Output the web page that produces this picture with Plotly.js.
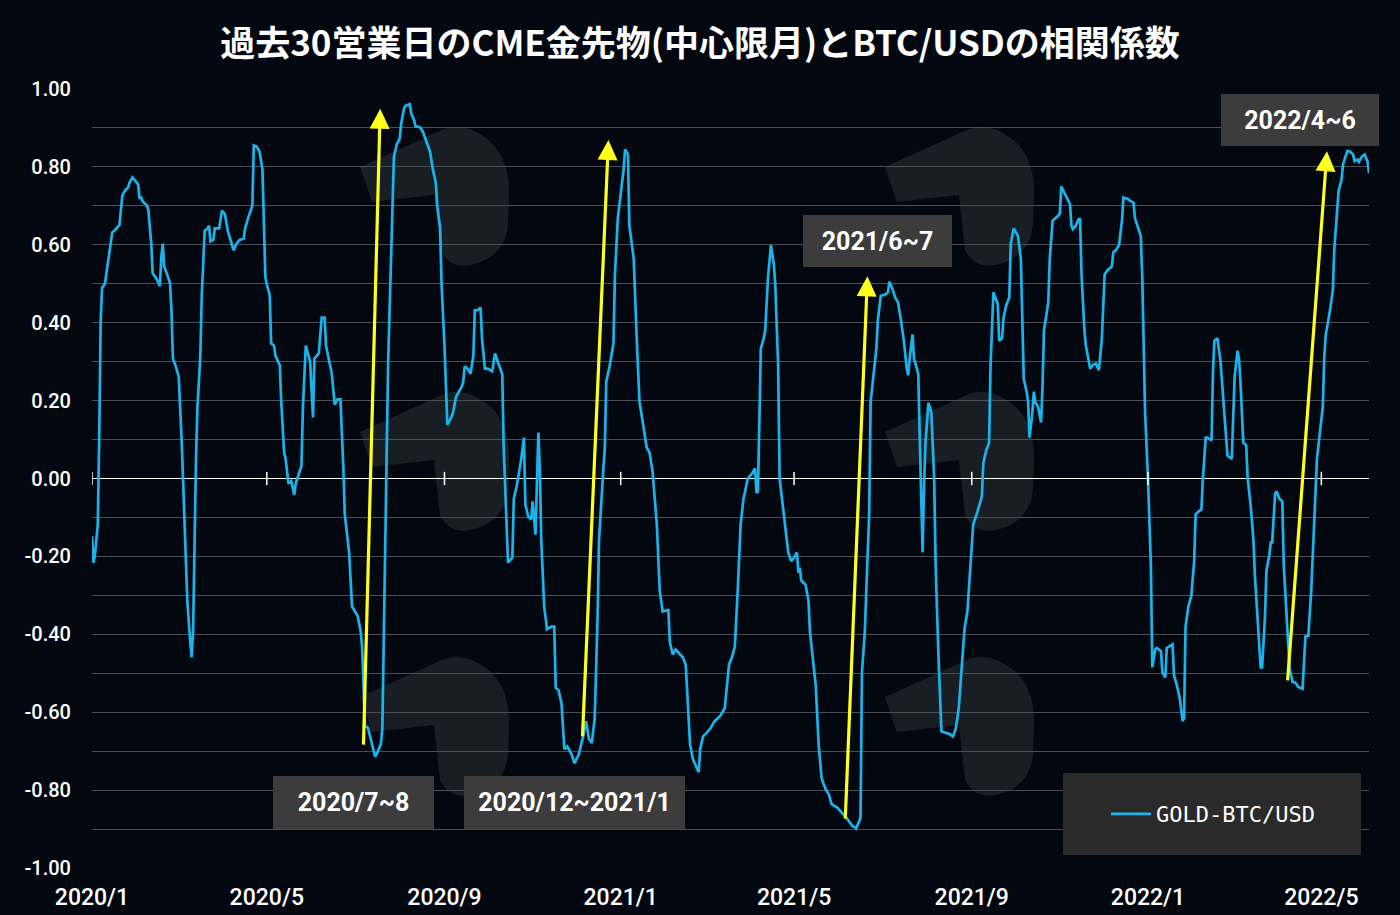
<!DOCTYPE html>
<html>
<head>
<meta charset="utf-8">
<script src="https://cdn.plot.ly/plotly-3.0.1.min.js"></script>
<style>
html,body{margin:0;padding:0;background:#03070f;}
#chart{width:1400px;height:915px;}
</style>
</head>
<body>
<div id="chart"></div>
<script>
// ---- data ----
const seriesName = 'GOLD-BTC/USD';
const dates = [
'2020-01-01','2020-01-02','2020-01-03','2020-01-05','2020-01-06','2020-01-07','2020-01-08','2020-01-10','2020-01-11','2020-01-13',
'2020-01-14','2020-01-15','2020-01-17','2020-01-20','2020-01-22','2020-01-24','2020-01-26','2020-01-27','2020-01-29','2020-01-31',
'2020-02-02','2020-02-03','2020-02-04','2020-02-05','2020-02-08','2020-02-09','2020-02-11','2020-02-12','2020-02-15','2020-02-17',
'2020-02-18','2020-02-19','2020-02-20','2020-02-22','2020-02-24','2020-02-25','2020-02-26','2020-02-28','2020-03-01','2020-03-03',
'2020-03-04','2020-03-05','2020-03-07','2020-03-09','2020-03-10','2020-03-11','2020-03-12','2020-03-13','2020-03-14','2020-03-16',
'2020-03-17','2020-03-19','2020-03-21','2020-03-22','2020-03-23','2020-03-25','2020-03-26','2020-03-29','2020-03-31','2020-04-02',
'2020-04-04','2020-04-08','2020-04-10','2020-04-12','2020-04-15','2020-04-16','2020-04-18','2020-04-21','2020-04-22','2020-04-24',
'2020-04-26','2020-04-28','2020-04-30','2020-05-01','2020-05-03','2020-05-04','2020-05-06','2020-05-07','2020-05-10','2020-05-11',
'2020-05-13','2020-05-14','2020-05-16','2020-05-18','2020-05-20','2020-05-21','2020-05-25','2020-05-26','2020-05-28','2020-05-30',
'2020-05-31','2020-06-02','2020-06-03','2020-06-06','2020-06-08','2020-06-10','2020-06-11','2020-06-15','2020-06-17','2020-06-19',
'2020-06-21','2020-06-23','2020-06-24','2020-06-27','2020-06-29','2020-07-03','2020-07-05','2020-07-06','2020-07-08','2020-07-10',
'2020-07-12','2020-07-15','2020-07-16','2020-07-19','2020-07-20','2020-07-21','2020-07-23','2020-07-24','2020-07-26','2020-07-27',
'2020-07-28','2020-07-30','2020-08-01','2020-08-02','2020-08-04','2020-08-05','2020-08-08','2020-08-09','2020-08-11','2020-08-12',
'2020-08-15','2020-08-17','2020-08-19','2020-08-21','2020-08-22','2020-08-24','2020-08-26','2020-08-27','2020-08-28','2020-08-29',
'2020-08-30','2020-09-01','2020-09-03','2020-09-05','2020-09-07','2020-09-09','2020-09-11','2020-09-13','2020-09-14','2020-09-15',
'2020-09-17','2020-09-19','2020-09-21','2020-09-22','2020-09-24','2020-09-26','2020-09-27','2020-09-29','2020-10-01','2020-10-04',
'2020-10-06','2020-10-07','2020-10-09','2020-10-11','2020-10-12','2020-10-14','2020-10-15','2020-10-18','2020-10-19','2020-10-21',
'2020-10-24','2020-10-26','2020-10-27','2020-10-29','2020-10-31','2020-11-01','2020-11-03','2020-11-05','2020-11-06','2020-11-07',
'2020-11-09','2020-11-11','2020-11-14','2020-11-16','2020-11-17','2020-11-19','2020-11-21','2020-11-23','2020-11-25','2020-11-28',
'2020-11-30','2020-12-03','2020-12-06','2020-12-08','2020-12-10','2020-12-12','2020-12-14','2020-12-16','2020-12-17','2020-12-20',
'2020-12-21','2020-12-22','2020-12-24','2020-12-27','2020-12-28','2020-12-30','2021-01-01','2021-01-03','2021-01-04','2021-01-06',
'2021-01-07','2021-01-10','2021-01-12','2021-01-14','2021-01-16','2021-01-19','2021-01-21','2021-01-23','2021-01-26','2021-01-28',
'2021-01-30','2021-02-03','2021-02-04','2021-02-06','2021-02-08','2021-02-10','2021-02-13','2021-02-15','2021-02-18','2021-02-20',
'2021-02-24','2021-02-25','2021-02-27','2021-03-01','2021-03-04','2021-03-07','2021-03-11','2021-03-14','2021-03-17','2021-03-19',
'2021-03-21','2021-03-23','2021-03-25','2021-03-27','2021-03-30','2021-04-02','2021-04-04','2021-04-05','2021-04-06','2021-04-08',
'2021-04-10','2021-04-11','2021-04-13','2021-04-15','2021-04-17','2021-04-18','2021-04-20','2021-04-21','2021-04-23','2021-04-25',
'2021-04-27','2021-04-29','2021-05-01','2021-05-03','2021-05-04','2021-05-05','2021-05-06','2021-05-09','2021-05-11','2021-05-12',
'2021-05-14','2021-05-16','2021-05-18','2021-05-20','2021-05-21','2021-05-23','2021-05-25','2021-05-27','2021-05-29','2021-05-31',
'2021-06-03','2021-06-05','2021-06-09','2021-06-10','2021-06-13','2021-06-16','2021-06-17','2021-06-19','2021-06-20','2021-06-22',
'2021-06-23','2021-06-25','2021-06-27','2021-06-28','2021-06-29','2021-06-30','2021-07-03','2021-07-05','2021-07-06','2021-07-08',
'2021-07-10','2021-07-12','2021-07-14','2021-07-16','2021-07-18','2021-07-19','2021-07-20','2021-07-22','2021-07-23','2021-07-24',
'2021-07-26','2021-07-27','2021-07-28','2021-07-29','2021-07-30','2021-07-31','2021-08-02','2021-08-04','2021-08-06','2021-08-07',
'2021-08-09','2021-08-11','2021-08-14','2021-08-16','2021-08-19','2021-08-21','2021-08-23','2021-08-25','2021-08-27','2021-08-29',
'2021-08-31','2021-09-02','2021-09-05','2021-09-08','2021-09-09','2021-09-11','2021-09-13','2021-09-14','2021-09-16','2021-09-19',
'2021-09-20','2021-09-22','2021-09-23','2021-09-25','2021-09-27','2021-09-28','2021-09-30','2021-10-03','2021-10-05','2021-10-06',
'2021-10-07','2021-10-09','2021-10-10','2021-10-11','2021-10-13','2021-10-14','2021-10-15','2021-10-17','2021-10-19','2021-10-20',
'2021-10-21','2021-10-24','2021-10-25','2021-10-27','2021-10-29','2021-10-31','2021-11-01','2021-11-02','2021-11-04','2021-11-06',
'2021-11-08','2021-11-09','2021-11-10','2021-11-12','2021-11-14','2021-11-15','2021-11-16','2021-11-18','2021-11-19','2021-11-22',
'2021-11-24','2021-11-26','2021-11-28','2021-11-30','2021-12-02','2021-12-04','2021-12-07','2021-12-08','2021-12-10','2021-12-12',
'2021-12-14','2021-12-15','2021-12-18','2021-12-20','2021-12-22','2021-12-23','2021-12-25','2021-12-27','2021-12-28','2021-12-29',
'2021-12-30','2022-01-01','2022-01-02','2022-01-03','2022-01-04','2022-01-06','2022-01-07','2022-01-10','2022-01-11','2022-01-13',
'2022-01-14','2022-01-16','2022-01-18','2022-01-19','2022-01-21','2022-01-23','2022-01-25','2022-01-26','2022-01-27','2022-01-29',
'2022-01-31','2022-02-02','2022-02-03','2022-02-05','2022-02-07','2022-02-08','2022-02-10','2022-02-11','2022-02-14','2022-02-15',
'2022-02-16','2022-02-18','2022-02-20','2022-02-21','2022-02-22','2022-02-24','2022-02-25','2022-02-28','2022-03-01','2022-03-02',
'2022-03-04','2022-03-05','2022-03-06','2022-03-08','2022-03-10','2022-03-11','2022-03-13','2022-03-15','2022-03-16','2022-03-18',
'2022-03-20','2022-03-21','2022-03-23','2022-03-24','2022-03-26','2022-03-27','2022-03-28','2022-03-30','2022-03-31','2022-04-02',
'2022-04-04','2022-04-05','2022-04-07','2022-04-09','2022-04-11','2022-04-13','2022-04-15','2022-04-18','2022-04-20','2022-04-22',
'2022-04-24','2022-04-26','2022-04-27','2022-04-28','2022-04-30','2022-05-02','2022-05-03','2022-05-04','2022-05-07','2022-05-09',
'2022-05-10','2022-05-12','2022-05-13','2022-05-15','2022-05-16','2022-05-19','2022-05-21','2022-05-23','2022-05-24','2022-05-26',
'2022-05-27','2022-05-29','2022-05-31','2022-06-02','2022-06-03'
];
const corr = [
-0.148,-0.216,-0.197,-0.118,0.105,0.406,0.49,0.50,0.528,0.59,
0.605,0.632,0.638,0.651,0.727,0.74,0.747,0.76,0.773,0.764,
0.754,0.718,0.723,0.712,0.701,0.69,0.603,0.527,0.511,0.494,
0.57,0.603,0.544,0.524,0.502,0.432,0.308,0.288,0.262,0.105,
0.0,-0.157,-0.315,-0.419,-0.459,-0.39,-0.157,0.052,0.183,0.315,
0.472,0.636,0.642,0.649,0.609,0.613,0.642,0.642,0.688,0.679,
0.636,0.586,0.603,0.612,0.616,0.642,0.668,0.701,0.855,0.852,
0.839,0.793,0.518,0.498,0.472,0.347,0.341,0.315,0.291,0.197,
0.066,0.052,-0.013,-0.007,-0.042,-0.013,0.033,0.183,0.341,0.315,
0.30,0.157,0.308,0.321,0.413,0.413,0.341,0.269,0.19,0.203,
0.203,0.026,-0.092,-0.19,-0.328,-0.354,-0.393,-0.432,-0.636,-0.64,
-0.668,-0.714,-0.708,-0.682,-0.642,-0.419,-0.026,0.30,0.563,0.695,
0.826,0.858,0.872,0.911,0.95,0.957,0.961,0.937,0.92,0.904,
0.902,0.891,0.872,0.852,0.839,0.793,0.76,0.701,0.668,0.642,
0.498,0.341,0.138,0.151,0.17,0.21,0.223,0.236,0.249,0.288,
0.282,0.269,0.315,0.432,0.432,0.439,0.36,0.282,0.282,0.275,
0.321,0.308,0.288,0.269,0.079,-0.118,-0.216,-0.203,-0.052,-0.02,
0.046,0.105,-0.066,-0.098,-0.105,-0.059,-0.144,0.118,0.026,-0.157,
-0.328,-0.387,-0.38,-0.38,-0.537,-0.544,-0.577,-0.695,-0.688,-0.708,
-0.731,-0.708,-0.662,-0.623,-0.668,-0.679,-0.616,-0.354,-0.157,0.026,
0.079,0.249,0.282,0.347,0.524,0.668,0.734,0.793,0.845,0.832,
0.649,0.564,0.367,0.197,0.151,0.079,0.066,0.02,-0.118,-0.288,
-0.341,-0.338,-0.419,-0.452,-0.439,-0.446,-0.459,-0.478,-0.682,-0.721,
-0.754,-0.695,-0.662,-0.655,-0.642,-0.623,-0.609,-0.59,-0.478,-0.459,
-0.432,-0.288,-0.118,-0.052,0.0,0.013,0.026,-0.037,-0.033,0.334,
0.36,0.38,0.518,0.599,0.55,0.498,0.288,0.0,-0.066,-0.138,
-0.19,-0.212,-0.203,-0.19,-0.242,-0.229,-0.262,-0.273,-0.315,-0.393,
-0.472,-0.531,-0.682,-0.767,-0.78,-0.799,-0.81,-0.836,-0.841,-0.845,
-0.858,-0.865,-0.885,-0.891,-0.898,-0.872,-0.498,-0.393,-0.288,-0.092,
0.197,0.262,0.334,0.406,0.432,0.469,0.472,0.478,0.505,0.488,
0.465,0.452,0.406,0.354,0.282,0.265,0.308,0.37,0.308,0.295,
0.269,0.105,-0.026,-0.19,-0.013,0.092,0.194,0.17,0.0,-0.223,
-0.459,-0.649,-0.653,-0.655,-0.662,-0.642,-0.59,-0.485,-0.387,-0.341,
-0.236,-0.118,-0.085,-0.046,0.039,0.072,0.092,0.288,0.478,0.448,
0.354,0.36,0.413,0.446,0.465,0.603,0.642,0.623,0.564,0.419,
0.256,0.223,0.197,0.105,0.17,0.223,0.197,0.183,0.144,0.236,
0.38,0.452,0.564,0.662,0.668,0.675,0.681,0.75,0.734,0.721,
0.705,0.649,0.64,0.649,0.666,0.666,0.524,0.38,0.341,0.282,
0.292,0.295,0.278,0.354,0.524,0.535,0.544,0.581,0.587,0.6,
0.662,0.721,0.718,0.712,0.708,0.668,0.642,0.623,0.524,0.367,
0.17,0.0,-0.105,-0.223,-0.485,-0.439,-0.435,-0.443,-0.498,-0.511,
-0.435,-0.43,-0.426,-0.505,-0.531,-0.564,-0.623,-0.616,-0.38,-0.328,
-0.301,-0.21,-0.092,-0.085,-0.079,0.0,0.105,0.105,0.098,0.275,
0.354,0.36,0.308,0.262,0.21,0.092,0.059,0.05,0.17,0.262,
0.328,0.308,0.249,0.092,0.085,0.0,-0.066,-0.157,-0.249,-0.38,
-0.485,-0.485,-0.354,-0.236,-0.197,-0.164,-0.164,-0.039,-0.033,-0.052,
-0.059,-0.223,-0.354,-0.485,-0.522,-0.524,-0.535,-0.54,-0.406,-0.404,
-0.288,-0.118,-0.007,0.052,0.118,0.183,0.308,0.367,0.432,0.485,
0.59,0.708,0.74,0.767,0.806,0.841,0.839,0.832,0.815,0.819,
0.813,0.826,0.832,0.813,0.784
];

// axis ticks
const xTickVals = ['2020-01-01','2020-05-01','2020-09-01','2021-01-01','2021-05-01','2021-09-01','2022-01-01','2022-05-01'];
const xTickText = ['2020/1','2020/5','2020/9','2021/1','2021/5','2021/9','2022/1','2022/5'];
const yTickVals = [-1,-0.8,-0.6,-0.4,-0.2,0,0.2,0.4,0.6,0.8,1];
const yTickText = ['-1.00','-0.80','-0.60','-0.40','-0.20','0.00','0.20','0.40','0.60','0.80','1.00'];
const yMinorVals = [-0.9,-0.7,-0.5,-0.3,-0.1,0.1,0.3,0.5,0.7,0.9];

// highlighted periods (labels + arrows)
const periodLabels = ['2020/7~8','2020/12~2021/1','2021/6~7','2022/4~6'];
const arrowTailDates = ['2020-07-06 22:00','2020-12-05 12:00','2021-06-05 10:00','2022-04-07 14:00'];
const arrowTailVals  = [-0.687,-0.666,-0.877,-0.522];
const arrowTipDates  = ['2020-07-18 12:00','2020-12-23 12:00','2021-06-20 19:00','2022-05-04 22:00'];
const arrowTipVals   = [0.949,0.869,0.519,0.84];

const title = '過去30営業日のCME金先物(中心限月)とBTC/USDの相関係数';

// ---- styling ----
const BG = '#03070f';
const WHITE = '#ffffff';
const LINE = '#1bb4ea';
const YELLOW = '#ffff1e';
const BOX = '#3c3c3c';

// plot-area pixel geometry (used only for decorative placement)
const PL = 92, PR = 1369, PT = 89, PB = 868;
const px = v => (v - PL) / (PR - PL);
const py = v => (PB - v) / (PB - PT);

const trace = {
  type: 'scatter', mode: 'lines', name: seriesName,
  x: dates, y: corr,
  line: {color: LINE, width: 2.7},
  hoverinfo: 'x+y'
};

// label boxes (paper positions)
const boxLayout = [
  {x: 0.2048, y: 0.0841, w: 161, h: 53},
  {x: 0.3778, y: 0.0841, w: 221, h: 53},
  {x: 0.6151, y: 0.8049, w: 149, h: 52},
  {x: 0.9459, y: 0.9606, w: 158, h: 52}
];

const annotations = [];
periodLabels.forEach((t, i) => {
  const b = boxLayout[i];
  annotations.push({
    xref: 'paper', yref: 'paper', x: b.x, y: b.y, xanchor: 'center', yanchor: 'middle',
    text: t, showarrow: false, width: b.w, height: b.h, bgcolor: BOX, borderpad: 0, borderwidth: 0,
    font: {family: 'Roboto, "Noto Sans", sans-serif', size: 25, color: WHITE, weight: 700}
  });
});
arrowTipDates.forEach((d, i) => {
  annotations.push({
    xref: 'x', yref: 'y', axref: 'x', ayref: 'y',
    x: d, y: arrowTipVals[i], ax: arrowTailDates[i], ay: arrowTailVals[i],
    text: '', showarrow: true, arrowhead: 2, arrowsize: 1.25, arrowwidth: 3.2,
    arrowcolor: YELLOW, standoff: 0, startstandoff: 0
  });
});

const shapes = [];
// faint watermark logos (decoration)
const logoOrigins = [[360,125],[360,390],[360,655],[885,125],[885,390],[885,655]];
const logoPts = [
  ['M',0,42],['L',84,4],['Q',100,-2,118,8],['Q',150,25,149,70],['L',148,100],
  ['Q',145,130,115,139],['Q',90,146,80,125],['L',74,70],['L',12,77]
];
logoOrigins.forEach(([ox, oy]) => {
  let p = '';
  logoPts.forEach(seg => {
    p += seg[0];
    const nums = [];
    for (let k = 1; k < seg.length; k += 2) nums.push(px(ox + seg[k]) + ',' + py(oy + seg[k + 1]));
    p += nums.join(' ') + ' ';
  });
  p += 'Z';
  shapes.push({type: 'path', xref: 'paper', yref: 'paper', path: p,
    fillcolor: 'rgba(255,255,255,0.09)', line: {width: 0}, layer: 'below'});
  // darker "eye" cut
  shapes.push({type: 'path', xref: 'paper', yref: 'paper',
    path: 'M' + px(ox + 38) + ',' + py(oy + 104) + ' Q' + px(ox + 60) + ',' + py(oy + 122) + ' ' + px(ox + 80) + ',' + py(oy + 100) + ' Q' + px(ox + 60) + ',' + py(oy + 110) + ' ' + px(ox + 38) + ',' + py(oy + 104) + ' Z',
    fillcolor: 'rgba(3,7,15,0.7)', line: {width: 0}, layer: 'below'});
});
// legend background box
shapes.push({type: 'rect', xref: 'paper', yref: 'paper', x0: px(1063), x1: px(1361), y0: py(855), y1: py(773),
  fillcolor: '#2a2a2a', line: {width: 0}, layer: 'above'});
// tick marks crossing the zero line
xTickVals.forEach(d => {
  shapes.push({type: 'line', xref: 'x', yref: 'y', x0: d, x1: d, y0: -0.017, y1: 0.017,
    line: {color: WHITE, width: 1.5}, layer: 'above'});
});

const layout = {
  width: 1400, height: 915,
  paper_bgcolor: BG, plot_bgcolor: BG,
  margin: {l: 92, r: 31, t: 89, b: 47},
  title: {
    text: '<b>' + title + '</b>',
    x: 0.5, xref: 'container', xanchor: 'center',
    y: 0.952, yref: 'container', yanchor: 'middle',
    font: {family: '"Noto Sans CJK JP", sans-serif', size: 35, color: WHITE}
  },
  xaxis: {
    type: 'date', range: ['2020-01-01', '2022-06-03'],
    tickmode: 'array', tickvals: xTickVals, ticktext: xTickText,
    showgrid: false, zeroline: false, showline: false, ticks: '',
    tickfont: {family: 'Roboto, sans-serif', size: 23, color: WHITE, weight: 500},
    ticklabelstandoff: 13, fixedrange: true
  },
  yaxis: {
    range: [-1, 1], tickmode: 'array', tickvals: yTickVals, ticktext: yTickText,
    showgrid: true, gridcolor: '#4b4e54', gridwidth: 1,
    minor: {tickmode: 'array', tickvals: yMinorVals, showgrid: true, gridcolor: '#4b4e54', gridwidth: 1, ticks: ''},
    zeroline: true, zerolinecolor: WHITE, zerolinewidth: 1.6,
    showline: false, ticks: '',
    tickfont: {family: 'Roboto, sans-serif', size: 20, color: WHITE, weight: 500},
    ticklabelstandoff: 20, fixedrange: true
  },
  showlegend: true,
  legend: {
    x: px(1106), y: py(814), xanchor: 'left', yanchor: 'middle',
    bgcolor: 'rgba(0,0,0,0)', borderwidth: 0, itemwidth: 40,
    font: {family: '"DejaVu Sans Mono", monospace', size: 22, color: WHITE}
  },
  annotations: annotations,
  shapes: shapes
};

Plotly.newPlot('chart', [trace], layout, {displayModeBar: false, staticPlot: true});
</script>
</body>
</html>
